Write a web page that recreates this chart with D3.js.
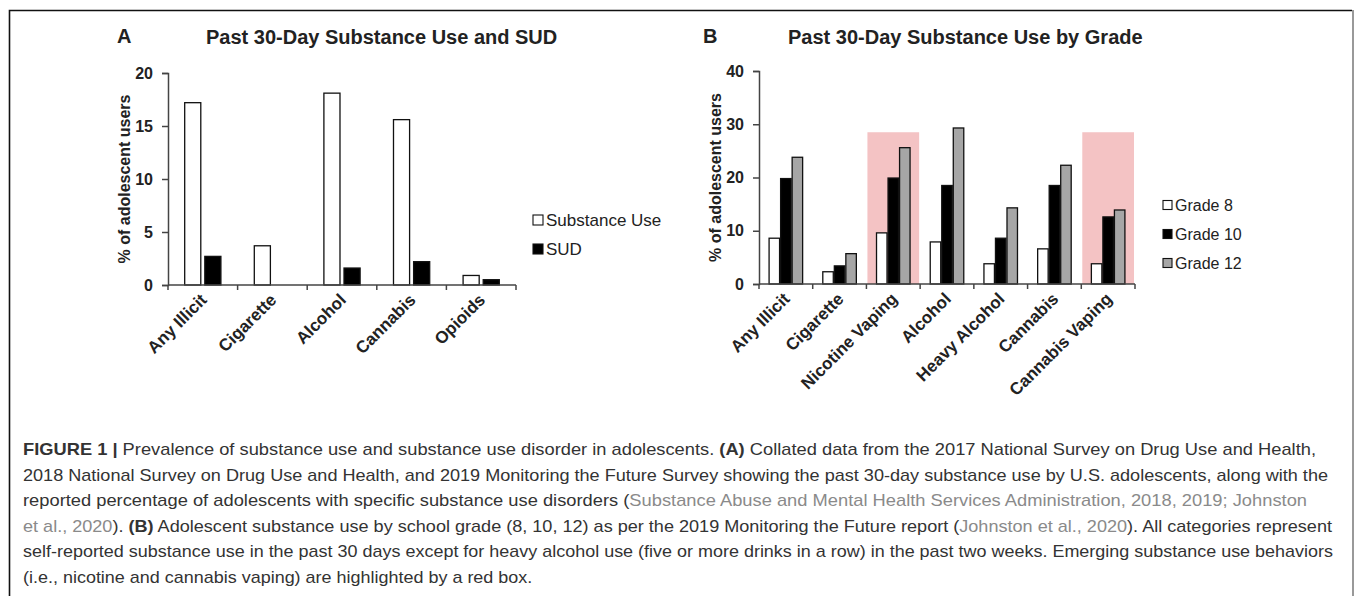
<!DOCTYPE html>
<html>
<head>
<meta charset="utf-8">
<script src="https://cdn.jsdelivr.net/npm/d3@7"></script>
<style>
  body { margin: 0; background: #fff; }
  svg text { font-family: "Liberation Sans", Arial, sans-serif; }
</style>
</head>
<body>
<svg id="fig" width="1355" height="596"></svg>
<script>
// panel A data
var catsA = ["Any Illicit", "Cigarette", "Alcohol", "Cannabis", "Opioids"];
var substanceUse = [17.2, 3.7, 18.1, 15.6, 0.9];
var sudValues = [2.7, null, 1.6, 2.2, 0.5];
var ticksA = [0, 5, 10, 15, 20];

// panel B data
var catsB = ["Any Illicit", "Cigarette", "Nicotine Vaping", "Alcohol", "Heavy Alcohol", "Cannabis", "Cannabis Vaping"];
var grade8 = [8.6, 2.3, 9.6, 7.9, 3.8, 6.6, 3.8];
var grade10 = [19.8, 3.4, 19.9, 18.5, 8.6, 18.5, 12.6];
var grade12 = [23.8, 5.7, 25.6, 29.3, 14.3, 22.3, 13.9];
var ticksB = [0, 10, 20, 30, 40];
var highlighted = ["Nicotine Vaping", "Cannabis Vaping"];
var highlightTop = 28.5;

var svg = d3.select("#fig");
var ink = "#222";

// frame around the figure
svg.append("path")
    .attr("d", "M9.5,600 V10.5 H1352")
    .attr("fill", "none").attr("stroke", "#111").attr("stroke-width", 1.6);
svg.append("line")
    .attr("x1", 1353).attr("x2", 1353).attr("y1", 10).attr("y2", 600)
    .attr("stroke", "#999").attr("stroke-width", 2);

function drawPanel(p) {
  var g = svg.append("g");
  var x = d3.scaleBand().domain(p.cats).range(p.xRange);
  var sub = d3.scaleBand().domain(p.series.map(function(s) { return s.name; }))
      .range([0, x.bandwidth()])
      .paddingInner(p.inner).paddingOuter(p.outer);
  var y = d3.scaleLinear().domain(p.yDomain).range(p.yRange);

  // highlight boxes
  if (p.highlight) {
    g.selectAll(".hl")
      .data(p.highlight)
      .enter().append("rect")
        .attr("x", function(d) { return x(d) + 1; })
        .attr("width", x.bandwidth() - 2)
        .attr("y", y(p.highlightTop))
        .attr("height", y(0) - y(p.highlightTop))
        .attr("fill", "#f4c3c4");
  }

  // bars
  p.series.forEach(function(s) {
    g.selectAll(null)
      .data(p.cats.map(function(c, i) { return {cat: c, v: s.values[i]}; })
                  .filter(function(d) { return d.v != null; }))
      .enter().append("rect")
        .attr("x", function(d) { return x(d.cat) + sub(s.name); })
        .attr("width", sub.bandwidth())
        .attr("y", function(d) { return y(d.v); })
        .attr("height", function(d) { return y(0) - y(d.v); })
        .attr("fill", s.fill)
        .attr("stroke", "#111")
        .attr("stroke-width", 1.3);
  });

  // y axis
  var ya = g.append("g")
      .attr("transform", "translate(" + p.xRange[0] + ",0)")
      .call(d3.axisLeft(y).tickValues(p.ticks).tickSize(6).tickPadding(9));
  ya.select(".domain").attr("stroke", "#444").attr("stroke-width", 1.5);
  ya.selectAll(".tick line").attr("stroke", "#444").attr("stroke-width", 1.5);
  ya.selectAll(".tick text")
      .attr("fill", ink).attr("font-size", 16).attr("font-weight", "bold")
      .style("font-family", "'Liberation Sans', Arial, sans-serif");

  // x axis: line plus ticks at category boundaries
  var xa = g.append("g").attr("transform", "translate(0," + y(0) + ")");
  xa.append("line")
      .attr("x1", p.xRange[0]).attr("x2", p.xRange[1])
      .attr("stroke", "#444").attr("stroke-width", 1.5);
  var bounds = p.cats.map(function(c) { return x(c); }).concat([p.xRange[1]]);
  xa.selectAll(".xt")
    .data(bounds)
    .enter().append("line")
      .attr("x1", function(d) { return d; }).attr("x2", function(d) { return d; })
      .attr("y1", 0).attr("y2", 5)
      .attr("stroke", "#444").attr("stroke-width", 1.5);
  xa.selectAll(".xl")
    .data(p.cats)
    .enter().append("text")
      .attr("transform", function(d) {
        return "translate(" + (x(d) + x.bandwidth() / 2 + 5) + ",16) rotate(-45)";
      })
      .attr("text-anchor", "end")
      .attr("font-size", 17).attr("font-weight", "bold").attr("fill", ink)
      .text(function(d) { return d; });

  // y label
  g.append("text")
      .attr("transform", "translate(" + p.yLabelX + "," + ((p.yRange[0] + p.yRange[1]) / 2) + ") rotate(-90)")
      .attr("text-anchor", "middle")
      .attr("font-size", 16).attr("font-weight", "bold").attr("fill", ink)
      .text("% of adolescent users");

  // panel letter and title
  g.append("text")
      .attr("x", p.letterX).attr("y", 43)
      .attr("font-size", 20).attr("font-weight", "bold").attr("fill", ink)
      .text(p.letter);
  g.append("text")
      .attr("x", p.titleX).attr("y", 44)
      .attr("font-size", 20).attr("font-weight", "bold").attr("fill", ink)
      .text(p.title);

  // legend
  var lg = g.selectAll(".lg")
    .data(p.series)
    .enter().append("g")
      .attr("transform", function(d, i) { return "translate(" + p.legendX + "," + (p.legendY + i * p.legendStep) + ")"; });
  lg.append("rect")
      .attr("x", 0).attr("y", -p.sq / 2).attr("width", p.sq).attr("height", p.sq)
      .attr("fill", function(d) { return d.fill; })
      .attr("stroke", "#111").attr("stroke-width", 1.1);
  lg.append("text")
      .attr("x", p.sq + 3).attr("dy", "0.36em")
      .attr("font-size", p.legendFont).attr("fill", ink)
      .text(function(d) { return d.name; });
}

drawPanel({
  cats: catsA,
  series: [
    {name: "Substance Use", values: substanceUse, fill: "#fff"},
    {name: "SUD", values: sudValues, fill: "#000"}
  ],
  xRange: [168, 516], yRange: [285, 73], yDomain: [0, 20], ticks: ticksA,
  inner: 0.2, outer: 0.83,
  yLabelX: 130, letter: "A", letterX: 117, title: "Past 30-Day Substance Use and SUD", titleX: 206,
  legendX: 533, legendY: 220, legendStep: 29, sq: 10, legendFont: 17
});

drawPanel({
  cats: catsB,
  series: [
    {name: "Grade 8", values: grade8, fill: "#fff"},
    {name: "Grade 10", values: grade10, fill: "#000"},
    {name: "Grade 12", values: grade12, fill: "#a6a6a6"}
  ],
  xRange: [759, 1135], yRange: [284, 71], yDomain: [0, 40], ticks: ticksB,
  inner: 0.09, outer: 0.875,
  highlight: highlighted, highlightTop: highlightTop,
  yLabelX: 721, letter: "B", letterX: 703, title: "Past 30-Day Substance Use by Grade", titleX: 788,
  legendX: 1163, legendY: 205, legendStep: 29, sq: 9, legendFont: 16
});

// caption
var captionLines = [
  [["FIGURE 1", "b"], ["  |  ", "b"], ["Prevalence of substance use and substance use disorder in adolescents. ", ""], ["(A)", "b"], [" Collated data from the 2017 National Survey on Drug Use and Health,", ""]],
  [["2018 National Survey on Drug Use and Health, and 2019 Monitoring the Future Survey showing the past 30-day substance use by U.S. adolescents, along with the", ""]],
  [["reported percentage of adolescents with specific substance use disorders (", ""], ["Substance Abuse and Mental Health Services Administration, 2018, 2019; Johnston", "g"]],
  [["et al., 2020", "g"], ["). ", ""], ["(B)", "b"], [" Adolescent substance use by school grade (8, 10, 12) as per the 2019 Monitoring the Future report (", ""], ["Johnston et al., 2020", "g"], ["). All categories represent", ""]],
  [["self-reported substance use in the past 30 days except for heavy alcohol use (five or more drinks in a row) in the past two weeks. Emerging substance use behaviors", ""]],
  [["(i.e., nicotine and cannabis vaping) are highlighted by a red box.", ""]]
];
// right edges of the full lines; the last line keeps the same squeeze as line 5
var lineEnds = [1316, 1328, 1307, 1332, 1333, null];

var cap = svg.append("g");
var squeeze = 1;
captionLines.forEach(function(segs, i) {
  var t = cap.append("text")
      .attr("x", 23).attr("y", 455 + i * 25.5)
      .attr("font-size", 17)
      .style("font-family", "'Liberation Sans Narrow', 'Liberation Sans', Arial, sans-serif")
      .attr("fill", "#333");
  segs.forEach(function(s) {
    t.append("tspan")
      .attr("font-weight", s[1] == "b" ? "bold" : null)
      .attr("fill", s[1] == "g" ? "#8a8a8a" : null)
      .text(s[0]);
  });
  var natural = t.node().getComputedTextLength();
  var target = lineEnds[i] != null ? lineEnds[i] - 23 : natural * squeeze;
  squeeze = target / natural;
  t.attr("textLength", target).attr("lengthAdjust", "spacingAndGlyphs");
});
</script>
</body>
</html>
